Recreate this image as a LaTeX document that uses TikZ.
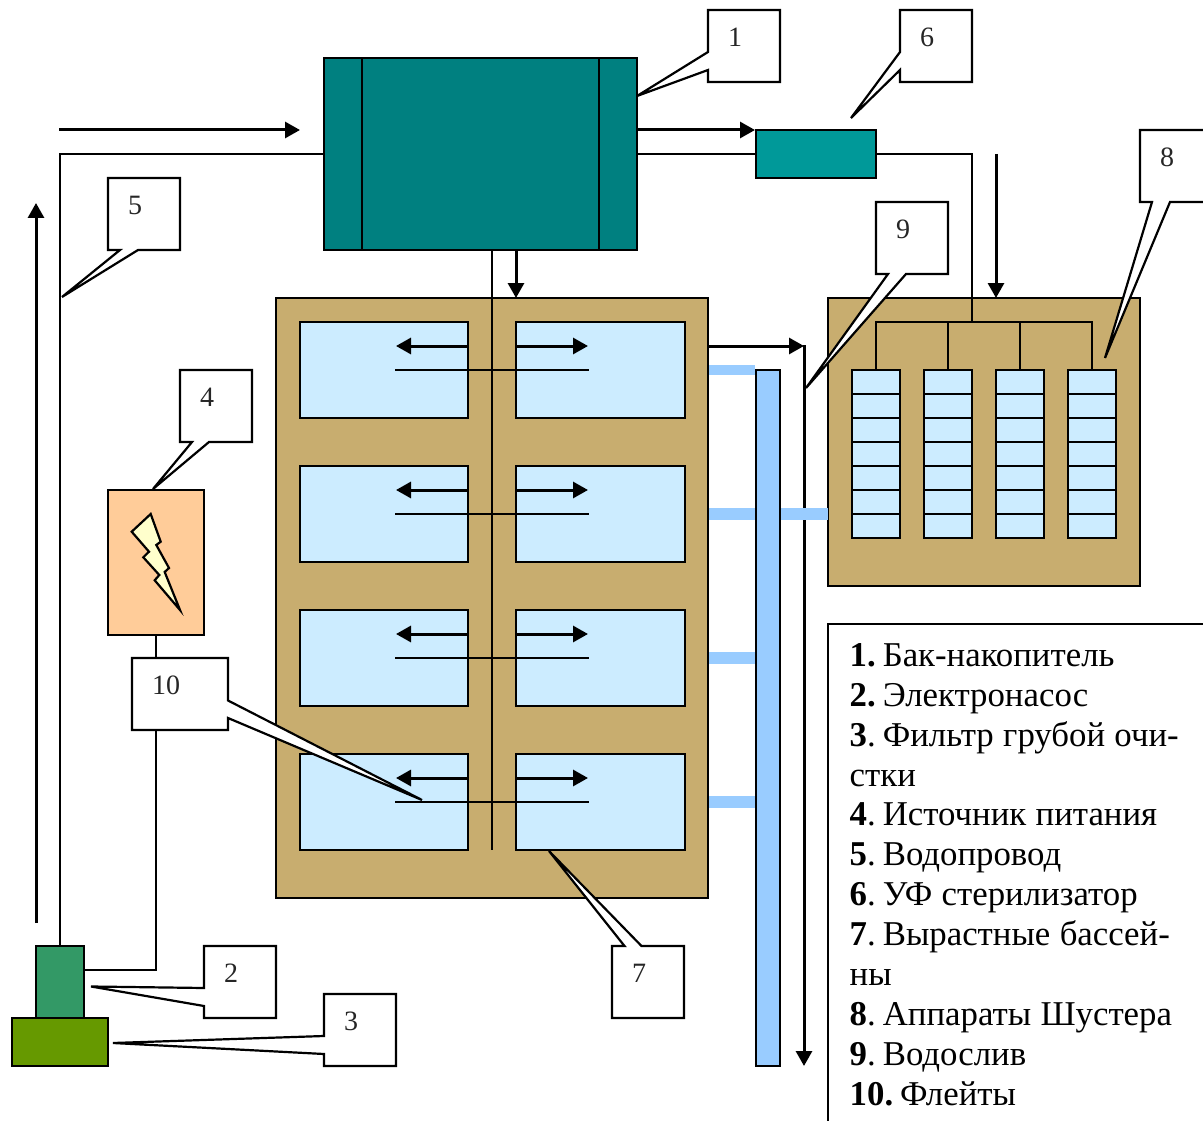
\documentclass[tikz,border=0pt]{standalone}
\usepackage{fontspec}
\setmainfont{Liberation Serif}
\usetikzlibrary{arrows.meta}
\definecolor{tankc}{HTML}{008080}
\definecolor{uvc}{HTML}{009999}
\definecolor{tanc}{HTML}{C8AD6F}
\definecolor{poolc}{HTML}{CCECFF}
\definecolor{drainc}{HTML}{99CCFF}
\definecolor{pumpc}{HTML}{339966}
\definecolor{filterc}{HTML}{669900}
\definecolor{powerc}{HTML}{FFCC99}
\definecolor{boltc}{HTML}{FFFFCC}
\tikzset{
  ln/.style={draw=black,line width=2.2pt},
  pipe/.style={black,line width=2.2pt},
  flow/.style={black,line width=3pt,-{Triangle[length=15pt,width=16pt]}},
  callout/.style={draw=black,fill=white,line width=2.2pt,miter limit=3},
  num/.style={font=\fontsize{28}{28}\selectfont,inner sep=0pt,text=black!85},
}
% \bx{name}{fill}{x1}{y1}{x2}{y2}
\newcommand{\bx}[6]{\node[ln,fill=#2,inner sep=0pt,outer sep=0pt,anchor=north west,minimum width=#5pt-#3pt,minimum height=#6pt-#4pt] (#1) at (#3,#4) {};}
\newcommand{\nsp}{\hspace{7pt}}
\begin{document}
\begin{tikzpicture}[x=1pt,y=-1pt]
\useasboundingbox (0,0) rectangle (1203,1121);
\clip (0,0) rectangle (1203,1121);
% basins
\bx{basins}{tanc}{276}{298}{708}{898}
\foreach \y [count=\i] in {322,466,610,754}{
  \pgfmathsetmacro{\yb}{\y+96}
  \bx{L\i}{poolc}{300}{\y}{468}{\yb}
  \bx{R\i}{poolc}{516}{\y}{685}{\yb}
}
% Shuster block
\bx{shuster}{tanc}{828}{298}{1140}{586}
\foreach \x [count=\i] in {852,924,996,1068}{
  \pgfmathsetmacro{\xr}{\x+48}
  \bx{col\i}{poolc}{\x}{370}{\xr}{538}
  \foreach \y in {394,418,442,466,490,514}{
    \draw[pipe,line width=1.8pt] (\x,\y) -- (\xr+1,\y);
  }
}
% tank, UV
\bx{tank}{tankc}{324}{58}{637}{250}
\draw[pipe] (362,58) -- (362,250);
\draw[pipe] (599,58) -- (599,250);
\bx{uv}{uvc}{756}{130}{876}{178}
% pipes
\coordinate (inA) at (59,130);
\coordinate (inB) at (300,130);
\draw[flow] (inA) -- (inB);
\coordinate (upA) at (36,923);
\coordinate (upB) at (36,203);
\draw[flow] (upA) -- (upB);
\bx{pump}{pumpc}{36}{946}{84}{1018}
\bx{filter}{filterc}{12}{1018}{108}{1066}
\bx{power}{powerc}{108}{490}{204}{635}
\draw[ln,fill=boltc,line join=miter] (150.7,514) -- (131.7,531.7) -- (149,551.7) -- (143.3,557.3) -- (159.3,575) -- (154.7,580.3) -- (180,610) -- (164.7,572) -- (169,568) -- (156.3,545) -- (160.7,541.7) -- cycle;
\draw[pipe] (tank.west |- 0,154) -- (60,154) -- (60,946);
\draw[pipe] (84,970) -- (156,970) -- (156,635);
\draw[flow] (637,130) -- (755,130);
\draw[pipe] (637,154) -- (756,154);
\draw[pipe] (876,154) -- (972,154) -- (972,322);
\draw[flow] (996,154) -- (996,298);
\draw[pipe] (876,370) -- (876,322) -- (1092,322) -- (1092,370);
\draw[pipe] (948,322) -- (948,370);
\draw[pipe] (1020,322) -- (1020,370);
\draw[pipe] (492,250) -- (492,850);
\draw[flow] (516,250) -- (516,298);
\foreach \y in {322,466,610,754}{
  \draw[flow] (468.5,\y+24) -- (396,\y+24);
  \draw[flow] (516,\y+24) -- (588,\y+24);
  \draw[pipe] (395,\y+48) -- (589,\y+48);
}
% drain
\bx{drain}{drainc}{756}{370}{780}{1066}
\draw[flow] (708,346) -- (804,346);
\draw[flow] (804,345) -- (804,1066);
\draw[drainc,line width=10pt] (709,370) -- (755,370);
\draw[drainc,line width=12pt] (709,514) -- (755,514);
\draw[drainc,line width=12pt] (709,658) -- (755,658);
\draw[drainc,line width=12pt] (709,802) -- (755,802);
\draw[drainc,line width=12pt] (781,514) -- (828,514);
% callouts
\draw[callout] (708,10) -- (780,10) -- (780,82) -- (708,82) -- (708,70) -- (637,96) -- (708,52) -- cycle;
\node[num] (n1) at (735,37) {1};
\draw[callout] (204,946) -- (276,946) -- (276,1018) -- (204,1018) -- (204,1006) -- (91,986.5) -- (204,988) -- cycle;
\node[num] (n2) at (231,973) {2};
\draw[callout] (324,994) -- (396,994) -- (396,1066) -- (324,1066) -- (324,1054) -- (113,1043) -- (324,1036) -- cycle;
\node[num] (n3) at (351,1021) {3};
\draw[callout] (180,370) -- (252,370) -- (252,442) -- (209,442) -- (153,489) -- (192,442) -- (180,442) -- cycle;
\node[num] (n4) at (207,397) {4};
\draw[callout] (108,178) -- (180,178) -- (180,250) -- (138,250) -- (62,297) -- (120,250) -- (108,250) -- cycle;
\node[num] (n5) at (135,205) {5};
\draw[callout] (900,10) -- (972,10) -- (972,82) -- (900,82) -- (900,70) -- (851,118) -- (900,52) -- cycle;
\node[num] (n6) at (927,37) {6};
\draw[callout] (612,946) -- (624.5,946) -- (549,851) -- (641.5,946) -- (684,946) -- (684,1018) -- (612,1018) -- cycle;
\node[num] (n7) at (639,973) {7};
\draw[callout] (1140,130) -- (1215,130) -- (1215,202) -- (1170,202) -- (1105,358) -- (1152,202) -- (1140,202) -- cycle;
\node[num] (n8) at (1167,157) {8};
\draw[callout] (876,202) -- (948,202) -- (948,274) -- (906,274) -- (806,388) -- (888,274) -- (876,274) -- cycle;
\node[num] (n9) at (903,229) {9};
\draw[callout] (132,658) -- (228,658) -- (228,700.5) -- (422,800) -- (228,718) -- (228,730) -- (132,730) -- cycle;
\node[num] (n10) at (166,685) {10};
% legend
\draw[ln,fill=white] (828,1135) -- (828,624) -- (1215,624) -- (1215,1135);
\foreach \t [count=\i] in {{\textbf{1.}\nsp Бак-накопитель},{\textbf{2.}\nsp Электронасос},{\textbf{3}.\nsp Фильтр грубой очи-},{стки},{\textbf{4}.\nsp Источник питания},{\textbf{5}.\nsp Водопровод},{\textbf{6}.\nsp УФ стерилизатор},{\textbf{7}.\nsp Вырастные бассей-},{ны},{\textbf{8}.\nsp Аппараты Шустера},{\textbf{9}.\nsp Водослив},{\textbf{10.}\nsp Флейты}}{
  \pgfmathsetmacro{\yy}{666.3+39.9*(\i-1)}
  \node[anchor=base west,inner sep=0pt,font=\fontsize{34.8}{34.8}\selectfont] (leg\i) at (849.5,\yy) {\spaceskip=0.27em\relax\ignorespaces\t};
}
\end{tikzpicture}
\end{document}
